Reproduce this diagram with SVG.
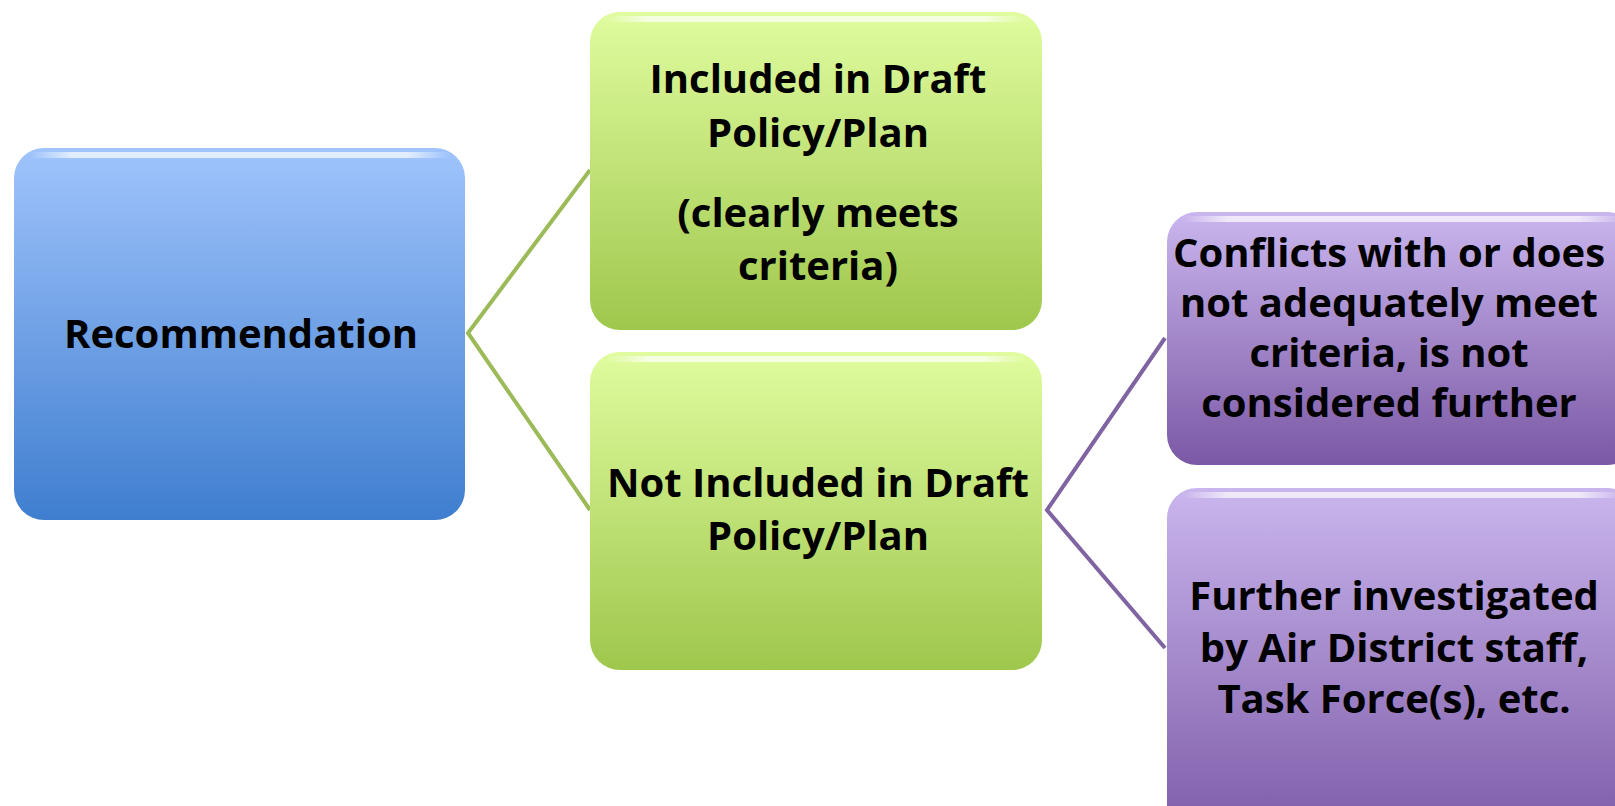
<svg xmlns="http://www.w3.org/2000/svg" width="1615" height="806" viewBox="0 0 1615 806">
<defs>
<linearGradient id="gBlue" x1="0" y1="0" x2="0" y2="1">
<stop offset="0" stop-color="#a0c4fc"/><stop offset="1" stop-color="#3f7ecf"/>
</linearGradient>
<linearGradient id="gGreen" x1="0" y1="0" x2="0" y2="1">
<stop offset="0" stop-color="#e0fc9f"/><stop offset="1" stop-color="#9fc74d"/>
</linearGradient>
<linearGradient id="gPurple" x1="0" y1="0" x2="0" y2="1">
<stop offset="0" stop-color="#cab6ee"/><stop offset="1" stop-color="#7b58a5"/>
</linearGradient>
<linearGradient id="gHi" x1="0" y1="0" x2="1" y2="0">
<stop offset="0" stop-color="#fff" stop-opacity="0"/><stop offset="0.1" stop-color="#fff" stop-opacity="0.7"/><stop offset="0.9" stop-color="#fff" stop-opacity="0.7"/><stop offset="1" stop-color="#fff" stop-opacity="0"/>
</linearGradient>
</defs>
<style>
text{font-family:"Open Sans","Liberation Sans",sans-serif;font-weight:bold;fill:#000;text-anchor:middle;font-size:40px}
.hi{fill:url(#gHi)}
.cg{stroke:#9bbb59;stroke-width:4;fill:none}
.cp{stroke:#8064a2;stroke-width:4;fill:none}
</style>
<rect width="1615" height="806" fill="#fff"/>
<g id="connectors">
<polyline class="cg" points="590,170 468,333 590,510"/>
<polyline class="cp" points="1165,338 1047,510 1165,648"/>
</g>
<g id="n-recommendation">
<rect x="14" y="148" width="451" height="372" rx="30" fill="url(#gBlue)"/>
<rect class="hi" x="30" y="152" width="419" height="6" rx="3"/>
<text x="241" y="348">Recommendation</text>
</g>
<g id="n-included">
<rect x="590" y="12" width="452" height="318" rx="30" fill="url(#gGreen)"/>
<rect class="hi" x="606" y="16" width="420" height="6" rx="3"/>
<text x="818" y="93">Included in Draft</text>
<text x="818" y="147">Policy/Plan</text>
<text x="818" y="227">(clearly meets</text>
<text x="818" y="280">criteria)</text>
</g>
<g id="n-notincluded">
<rect x="590" y="352" width="452" height="318" rx="30" fill="url(#gGreen)"/>
<rect class="hi" x="606" y="356" width="420" height="6" rx="3"/>
<text x="818" y="497">Not Included in Draft</text>
<text x="818" y="550">Policy/Plan</text>
</g>
<g id="n-conflicts">
<rect x="1167" y="212" width="470" height="253" rx="30" fill="url(#gPurple)"/>
<rect class="hi" x="1183" y="216" width="440" height="6" rx="3"/>
<text x="1389" y="267">Conflicts with or does</text>
<text x="1389" y="317">not adequately meet</text>
<text x="1389" y="367">criteria, is not</text>
<text x="1389" y="417">considered further</text>
</g>
<g id="n-further">
<rect x="1167" y="488" width="470" height="360" rx="30" fill="url(#gPurple)"/>
<rect class="hi" x="1183" y="492" width="440" height="6" rx="3"/>
<text x="1394" y="610">Further investigated</text>
<text x="1394" y="662">by Air District staff,</text>
<text x="1394" y="713">Task Force(s), etc.</text>
</g>
</svg>
